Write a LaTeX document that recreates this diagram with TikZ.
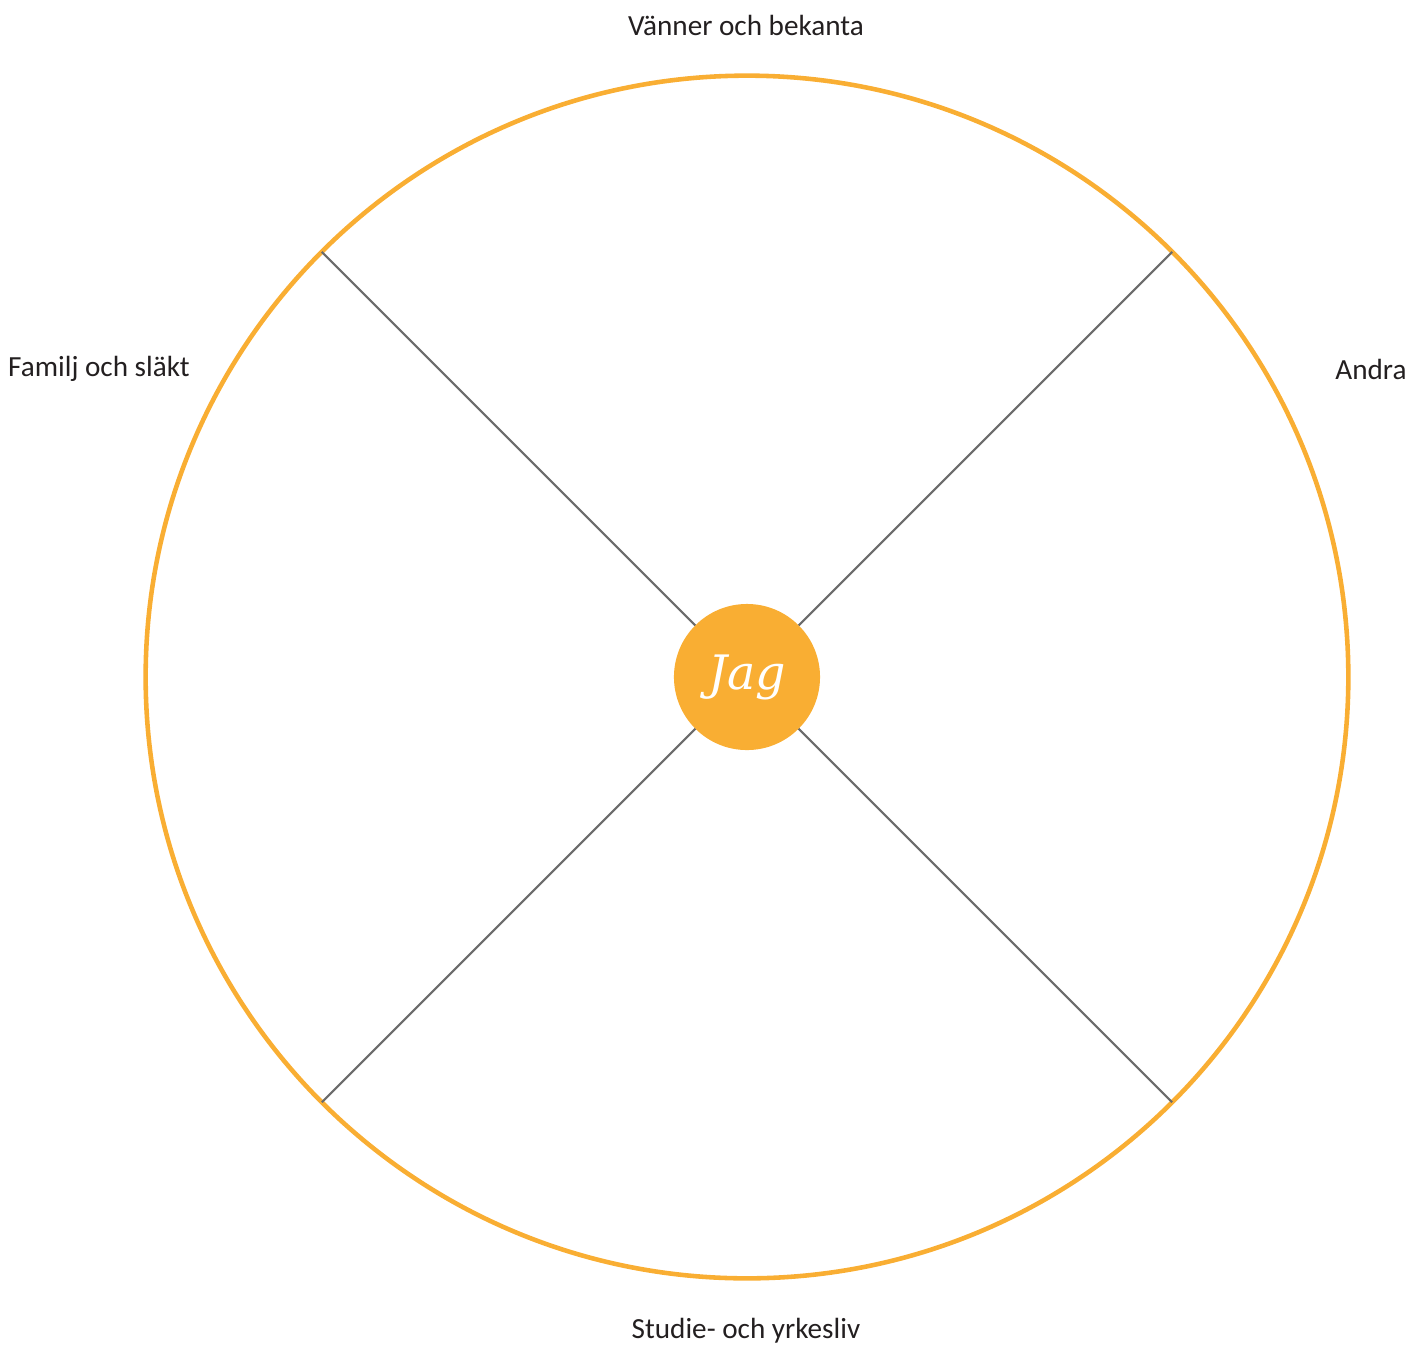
\documentclass[tikz,border=0pt]{standalone}
\usepackage{fontspec}
\setmainfont{Carlito}
\newfontfamily\jagfont{DejaVu Serif}
\usepackage{tikz}
\usetikzlibrary{positioning}

\definecolor{wheelorange}{HTML}{F9AE33}
\definecolor{spokegray}{HTML}{6B6B6B}
\definecolor{labelgray}{HTML}{231F20}

\begin{document}
\begin{tikzpicture}[x=0.01cm, y=0.01cm,
	ring/.style={circle, draw=wheelorange, line width=1.3pt, minimum size=12.02cm, inner sep=0pt, outer sep=0pt},
	me/.style={circle, fill=wheelorange, minimum size=1.46cm, inner sep=0pt, outer sep=0pt, text=white, font=\jagfont\itshape\fontsize{13.5}{15}\selectfont},
	spoke/.style={draw=spokegray, line width=0.6pt},
	area/.style={text=labelgray, font=\fontsize{8.3}{10}\selectfont, inner sep=0pt}]
	\useasboundingbox (-747,-667) rectangle (677,677);
	
	% Nodes {ring, jag, labels}
	\node [ring] 		(wheel) 	at (0,0) 		{};
	\node [me] 			(jag) 		at (0,0) 		{\raisebox{-2pt}{Jag}};
	\node [area] 		(friends) 	at (-1,652) 	{Vänner och bekanta};
	\node [area] 		(family) 	at (-648,308) 	{Familj och släkt};
	\node [area] 		(others) 	at (624,308) 	{Andra};
	\node [area] 		(work) 		at (-1,-654) 	{Studie- och yrkesliv};
	
	% Spokes
	\path [spoke] 	(jag.45) 	-- 	(wheel.45);
	\path [spoke] 	(jag.135) 	-- 	(wheel.135);
	\path [spoke] 	(jag.225) 	-- 	(wheel.225);
	\path [spoke] 	(jag.315) 	-- 	(wheel.315);
	
\end{tikzpicture}
\end{document}
